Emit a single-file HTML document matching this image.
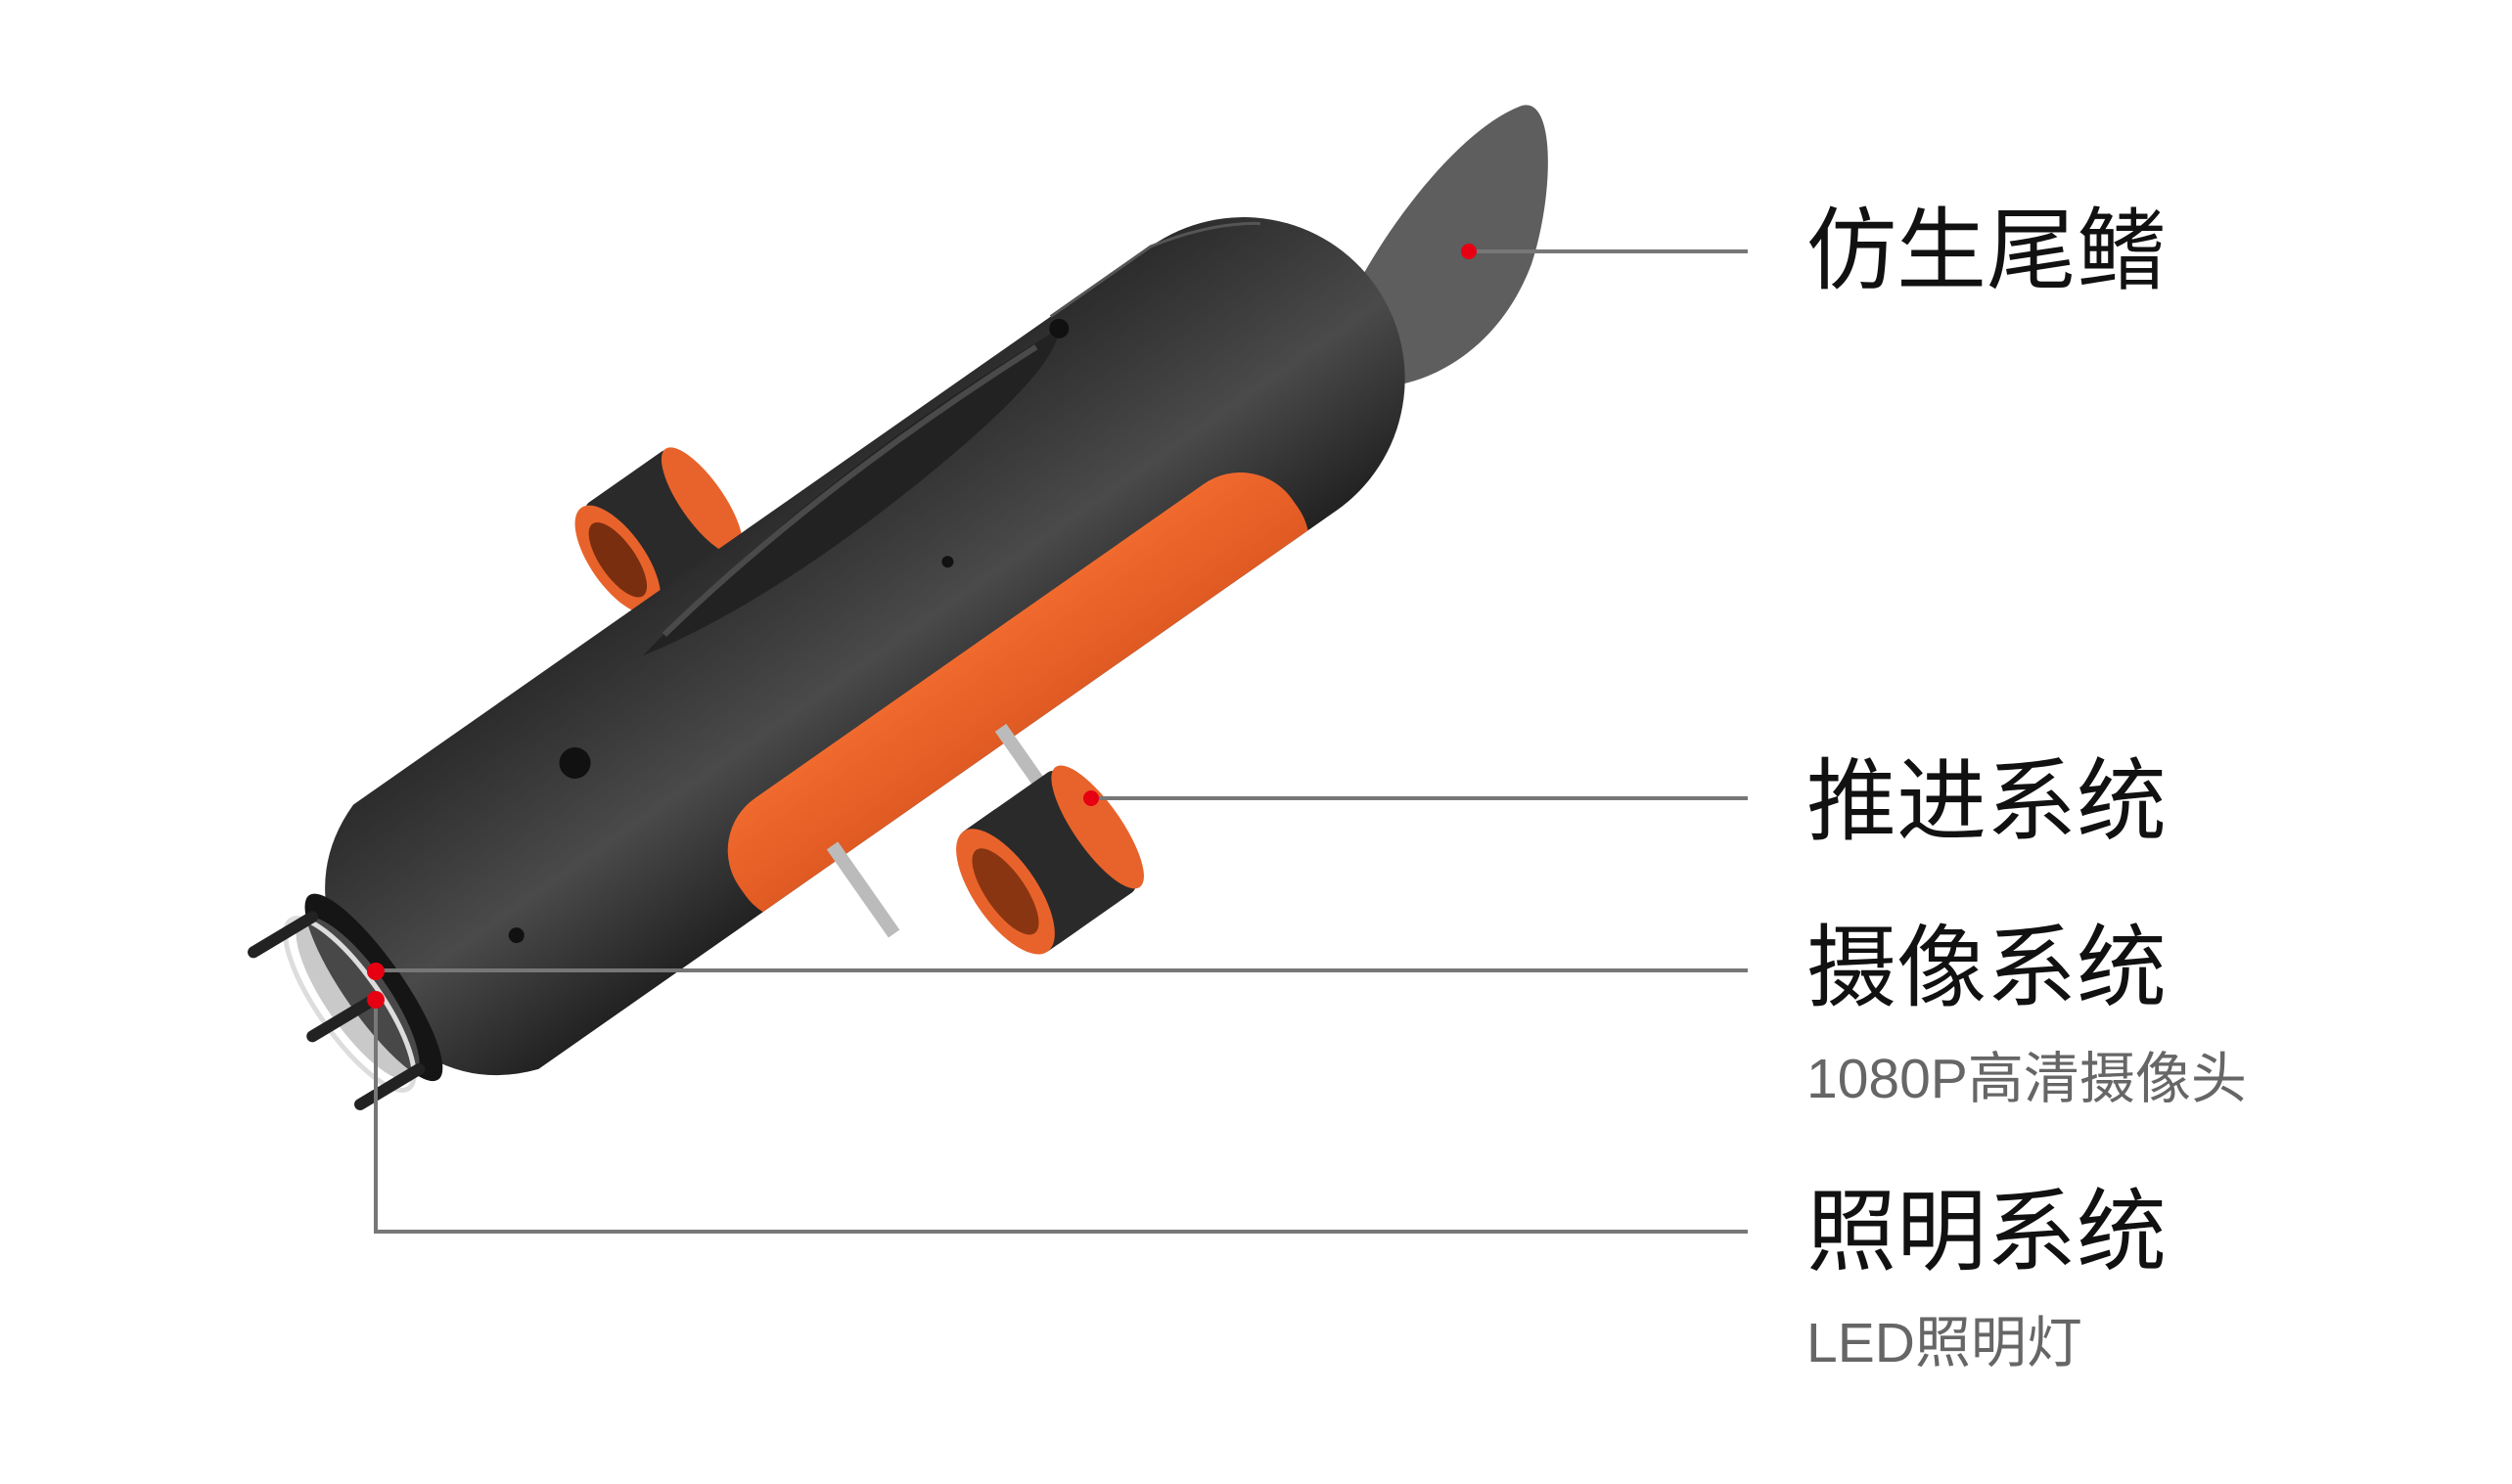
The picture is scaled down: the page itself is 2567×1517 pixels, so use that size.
<!DOCTYPE html>
<html><head><meta charset="utf-8">
<style>
html,body{margin:0;padding:0;background:#fff;}
body{width:2567px;height:1517px;position:relative;overflow:hidden;}
.t{position:absolute;left:1846px;font-family:"Liberation Sans","Noto Sans CJK SC",sans-serif;font-size:92px;line-height:92px;color:#111;white-space:nowrap;}
.s{position:absolute;left:1846px;font-family:"Liberation Sans","Noto Sans CJK SC",sans-serif;font-size:57px;line-height:57px;color:#666;white-space:nowrap;}
svg{position:absolute;left:0;top:0;}
</style></head><body>
<svg width="2567" height="1517" viewBox="0 0 2567 1517">
<defs>
<linearGradient id="bg" x1="0" y1="0" x2="0" y2="1">
<stop offset="0" stop-color="#2c2c2c"/><stop offset="0.3" stop-color="#3c3c3c"/><stop offset="0.55" stop-color="#4a4a4a"/><stop offset="1" stop-color="#222"/>
</linearGradient>
<linearGradient id="og" x1="0" y1="0" x2="0" y2="1">
<stop offset="0" stop-color="#f06a2e"/><stop offset="1" stop-color="#d9531e"/>
</linearGradient>
<clipPath id="bc"><path d="M-540,-165 L455,-165 A165,165 0 0 1 455,165 L-540,165 Q-640,130 -645,0 Q-640,-130 -540,-165 Z"/></clipPath>
</defs>
<!-- tail fin -->
<path d="M1380,305 C1420,225 1495,130 1555,108 C1590,98 1588,200 1565,270 C1535,350 1470,392 1410,396 Z" fill="#5e5e5e"/>
<g transform="translate(898,648) rotate(-35)">
 <!-- rear thruster (behind) -->
 <rect x="-175" y="-280" width="110" height="130" rx="10" fill="#2a2a2a"/>
 <ellipse cx="-70" cy="-215" rx="22" ry="65" fill="#e8632b"/>
 <ellipse cx="-175" cy="-215" rx="28" ry="65" fill="#e8632b"/>
 <ellipse cx="-175" cy="-215" rx="18" ry="45" fill="#7a2e10"/>
 <!-- body -->
 <path d="M-540,-165 L455,-165 A165,165 0 0 1 455,165 L-540,165 Q-640,130 -645,0 Q-640,-130 -540,-165 Z" fill="url(#bg)"/>
 <g clip-path="url(#bc)">
  <rect x="-265" y="65" width="690" height="140" rx="65" fill="url(#og)"/>
 </g>
 <!-- dorsal ridge -->
 <path d="M-210,-120 Q40,-170 330,-150 Q300,-110 60,-100 Q-100,-95 -210,-120 Z" fill="#222"/>
 <path d="M-180,-125 Q40,-160 300,-148" stroke="#4a4a4a" stroke-width="6" fill="none"/>
 <circle cx="-330" cy="-70" r="16" fill="#111"/>
 <circle cx="330" cy="-150" r="10" fill="#111"/>
 <circle cx="-480" cy="40" r="8" fill="#111"/>
 <circle cx="100" cy="-20" r="6" fill="#111"/>
 <path d="M330,-165 L455,-165 Q520,-150 560,-120" stroke="#555" stroke-width="3" fill="none"/>
 <!-- front face -->
 <ellipse cx="-630" cy="0" rx="30" ry="115" fill="#151515"/>
 <ellipse cx="-650" cy="0" rx="32" ry="100" fill="#888" opacity="0.45"/>
 <ellipse cx="-660" cy="0" rx="32" ry="105" fill="none" stroke="#ddd" stroke-width="5"/>
 <g stroke="#222" stroke-width="12" stroke-linecap="round">
  <line x1="-640" y1="-95" x2="-710" y2="-100"/>
  <line x1="-640" y1="10" x2="-710" y2="5"/>
  <line x1="-640" y1="95" x2="-710" y2="90"/>
 </g>
 <!-- brackets -->
 <g fill="#bbb">
  <rect x="-170" y="150" width="14" height="110"/>
  <rect x="40" y="150" width="14" height="70"/>
 </g>
 <!-- front thruster -->
 <rect x="-40" y="215" width="110" height="150" rx="10" fill="#2a2a2a"/>
 <ellipse cx="70" cy="290" rx="24" ry="75" fill="#e8632b"/>
 <rect x="-45" y="215" width="40" height="150" fill="#2a2a2a"/>
 <ellipse cx="-45" cy="290" rx="32" ry="75" fill="#e8632b"/>
 <ellipse cx="-45" cy="290" rx="20" ry="52" fill="#8a3512"/>
</g>
<!-- leader lines -->
<g stroke="#777" stroke-width="4" fill="none">
 <line x1="1501" y1="257" x2="1786" y2="257"/>
 <line x1="1115" y1="816" x2="1786" y2="816"/>
 <line x1="384" y1="992" x2="1786" y2="992"/>
 <polyline points="384,1022 384,1259 1786,1259"/>
</g>
<g fill="#e60012">
 <circle cx="1501" cy="257" r="8"/>
 <circle cx="1115" cy="816" r="8"/>
 <circle cx="384" cy="993" r="9"/>
 <circle cx="384" cy="1022" r="9"/>
</g>
</svg>
<div class="t" style="top:211px">仿生尾鳍</div>
<div class="t" style="top:774px">推进系统</div>
<div class="t" style="top:944px">摄像系统</div>
<div class="s" style="top:1075px">1080P高清摄像头</div>
<div class="t" style="top:1214px">照明系统</div>
<div class="s" style="top:1345px">LED照明灯</div>
</body></html>
